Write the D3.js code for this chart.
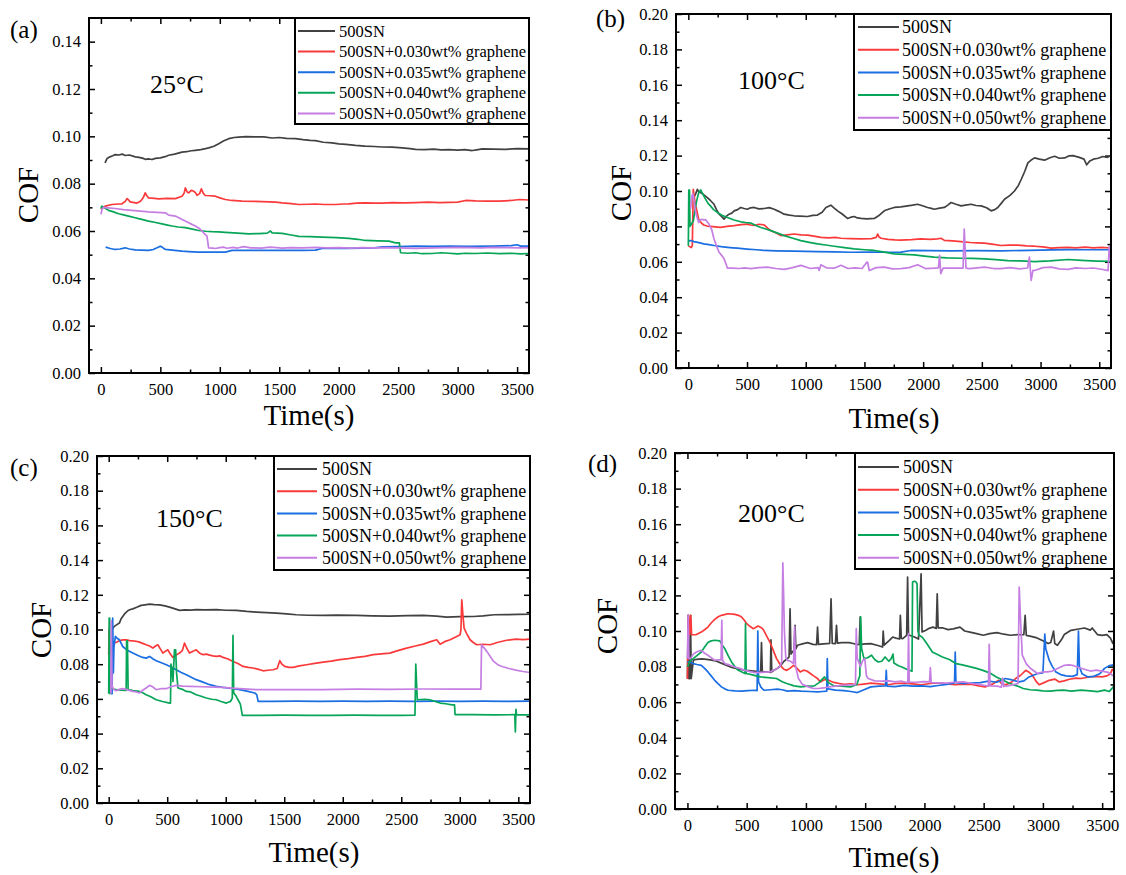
<!DOCTYPE html>
<html>
<head>
<meta charset="utf-8">
<script src="https://cdn.jsdelivr.net/npm/d3@7"></script>
<style>
  body { margin: 0; background: #fff; }
  svg { display: block; }
  text { font-family: "Liberation Serif", "Times New Roman", serif; fill: #000; }
</style>
</head>
<body>
<div id="chart"></div>
<script>
// legend names and colours, same order in every panel
const seriesNames = ["500SN", "500SN+0.030wt% graphene", "500SN+0.035wt% graphene", "500SN+0.040wt% graphene", "500SN+0.050wt% graphene"];
const seriesColors = ["#414141", "#fa3a3a", "#1a6ee2", "#07a558", "#c57ee2"];
const panelLetters = ["(a)", "(b)", "(c)", "(d)"];
const temperatures = ["25°C", "100°C", "150°C", "200°C"];
const xTickValues = [0, 500, 1000, 1500, 2000, 2500, 3000, 3500];
const yTickValuesA = [0, 0.02, 0.04, 0.06, 0.08, 0.10, 0.12, 0.14];
const yTickValues = [0, 0.02, 0.04, 0.06, 0.08, 0.10, 0.12, 0.14, 0.16, 0.18, 0.20];

// (a) 25°C  -- [time (s), COF]
const a_500SN = [[35,0.0888],[50,0.0905],[70,0.0912],[100,0.0918],[120,0.0923],[150,0.0921],[180,0.0925],[204,0.0919],[240,0.0921],[289,0.0913],[320,0.0911],[350,0.0908],[373,0.0903],[400,0.0905],[430,0.0902],[458,0.0907],[500,0.0909],[540,0.0914],[570,0.092],[620,0.0925],[682,0.0933],[720,0.0935],[760,0.0939],[794,0.0941],[840,0.0944],[880,0.0948],[906,0.0951],[950,0.0958],[991,0.0969],[1030,0.098],[1075,0.099],[1120,0.0995],[1159,0.0997],[1220,0.0999],[1299,0.0998],[1370,0.0998],[1440,0.0993],[1500,0.0995],[1560,0.0991],[1636,0.099],[1700,0.0986],[1760,0.0983],[1804,0.0982],[1870,0.0975],[1944,0.0972],[2000,0.0968],[2060,0.0966],[2141,0.0962],[2220,0.0959],[2300,0.0957],[2366,0.0955],[2450,0.0954],[2534,0.0951],[2600,0.0948],[2646,0.0945],[2720,0.0944],[2800,0.0946],[2860,0.0943],[2927,0.0944],[3000,0.0942],[3060,0.0944],[3123,0.094],[3160,0.0943],[3207,0.0947],[3300,0.0946],[3400,0.0945],[3500,0.0948],[3600,0.0947]];
const a_030 = [[0,0.0691],[20,0.07],[36,0.0705],[93,0.0712],[150,0.0714],[177,0.0715],[205,0.0725],[219,0.0737],[235,0.073],[247,0.0723],[303,0.0718],[330,0.0725],[345,0.0733],[360,0.0745],[373,0.0761],[385,0.075],[401,0.074],[450,0.0738],[486,0.0736],[560,0.0738],[626,0.0737],[682,0.0747],[700,0.076],[710,0.0782],[725,0.0765],[738,0.0761],[760,0.0772],[780,0.0768],[795,0.0762],[808,0.0751],[830,0.0758],[845,0.0778],[860,0.076],[878,0.075],[920,0.0749],[962,0.0747],[1000,0.074],[1047,0.0733],[1100,0.0729],[1187,0.0726],[1300,0.0725],[1411,0.0723],[1470,0.0722],[1524,0.0719],[1600,0.0716],[1664,0.0712],[1750,0.0713],[1804,0.0714],[1880,0.0712],[1973,0.0712],[2040,0.0714],[2085,0.0715],[2150,0.0718],[2225,0.0719],[2300,0.0718],[2366,0.0718],[2450,0.072],[2550,0.0719],[2646,0.072],[2750,0.0722],[2850,0.072],[2927,0.0721],[3000,0.0722],[3067,0.0729],[3150,0.0727],[3250,0.0726],[3350,0.0726],[3450,0.0729],[3520,0.0733],[3600,0.0731]];
const a_035 = [[40,0.0532],[80,0.0526],[120,0.0522],[160,0.0524],[204,0.0529],[240,0.0524],[289,0.052],[340,0.0519],[401,0.0518],[440,0.0522],[472,0.0529],[500,0.0536],[520,0.053],[542,0.0522],[600,0.0519],[682,0.0515],[740,0.0513],[822,0.0511],[950,0.0511],[1047,0.0511],[1103,0.0518],[1250,0.0518],[1383,0.0518],[1550,0.0518],[1700,0.0518],[1804,0.0519],[1860,0.0526],[1950,0.0526],[2085,0.0527],[2200,0.0528],[2300,0.0529],[2366,0.0533],[2500,0.0534],[2646,0.0536],[2800,0.0535],[2927,0.0536],[3100,0.0535],[3300,0.0536],[3450,0.0538],[3500,0.0542],[3530,0.0536],[3600,0.0536]];
const a_040 = [[0,0.0695],[8,0.0705],[40,0.0695],[64,0.0687],[100,0.0682],[149,0.0673],[190,0.0668],[233,0.0663],[280,0.0657],[317,0.0652],[360,0.0647],[401,0.0642],[460,0.0636],[514,0.063],[560,0.0625],[598,0.0621],[650,0.0617],[710,0.0614],[760,0.0609],[822,0.0602],[880,0.0599],[934,0.0597],[990,0.0596],[1047,0.0594],[1150,0.0591],[1243,0.0588],[1330,0.0589],[1398,0.0591],[1426,0.06],[1440,0.0592],[1524,0.059],[1600,0.0583],[1664,0.0577],[1760,0.0576],[1860,0.0574],[1980,0.0572],[2085,0.0569],[2160,0.0565],[2225,0.056],[2330,0.0558],[2422,0.0557],[2478,0.055],[2510,0.055],[2520,0.0508],[2580,0.0506],[2646,0.0508],[2700,0.0504],[2787,0.0505],[2860,0.0508],[2927,0.0506],[3000,0.0503],[3067,0.0506],[3150,0.0505],[3250,0.0507],[3350,0.0504],[3450,0.0506],[3530,0.0503],[3600,0.0505]];
const a_050 = [[0,0.067],[10,0.0692],[20,0.07],[60,0.0698],[120,0.0695],[190,0.069],[261,0.0687],[330,0.0684],[401,0.0681],[470,0.0679],[542,0.0677],[570,0.0667],[600,0.0665],[626,0.0663],[660,0.0655],[682,0.0649],[710,0.0642],[738,0.0635],[765,0.0628],[794,0.0621],[825,0.0612],[850,0.06],[870,0.0589],[892,0.0578],[906,0.0529],[940,0.0528],[962,0.0526],[1000,0.053],[1030,0.0532],[1060,0.0527],[1110,0.0531],[1150,0.0528],[1200,0.0534],[1260,0.0529],[1350,0.0528],[1420,0.0532],[1480,0.053],[1524,0.0528],[1600,0.053],[1700,0.0529],[1800,0.0531],[1900,0.0529],[2000,0.053],[2100,0.0528],[2200,0.053],[2300,0.0529],[2400,0.053],[2500,0.0529],[2646,0.0527],[2800,0.0529],[2900,0.053],[3000,0.0531],[3100,0.053],[3200,0.0529],[3300,0.0531],[3400,0.053],[3500,0.0529],[3600,0.053]];

// (b) 100°C
const b_500SN = [[45,0.0963],[60,0.098],[77,0.1009],[90,0.0995],[105,0.0991],[130,0.098],[162,0.0963],[190,0.0945],[219,0.0925],[240,0.0895],[262,0.0869],[285,0.0855],[304,0.0841],[325,0.0858],[347,0.0869],[370,0.0875],[390,0.0888],[420,0.0895],[446,0.0907],[475,0.0901],[503,0.0897],[530,0.0905],[560,0.0907],[600,0.0899],[646,0.0901],[690,0.0906],[731,0.0897],[770,0.0885],[816,0.0869],[860,0.0864],[901,0.086],[950,0.0858],[1015,0.0856],[1060,0.0862],[1100,0.0864],[1140,0.088],[1172,0.0907],[1214,0.092],[1240,0.0905],[1271,0.0888],[1310,0.087],[1356,0.0845],[1385,0.0852],[1413,0.0856],[1440,0.0848],[1470,0.0845],[1520,0.0843],[1584,0.0845],[1620,0.086],[1669,0.0888],[1710,0.0898],[1754,0.0907],[1810,0.091],[1868,0.0916],[1910,0.092],[1953,0.0925],[2000,0.0915],[2038,0.0907],[2070,0.0902],[2095,0.0897],[2140,0.0903],[2181,0.0907],[2210,0.092],[2238,0.0935],[2280,0.0925],[2323,0.0916],[2360,0.092],[2409,0.0925],[2450,0.0918],[2494,0.0916],[2540,0.0905],[2579,0.0888],[2610,0.0895],[2636,0.0907],[2665,0.093],[2693,0.0953],[2740,0.0975],[2778,0.1],[2810,0.103],[2835,0.1065],[2865,0.111],[2892,0.1159],[2920,0.1175],[2949,0.1187],[2990,0.118],[3034,0.1174],[3080,0.1188],[3120,0.1196],[3160,0.1185],[3205,0.1187],[3240,0.1198],[3276,0.12],[3330,0.119],[3370,0.118],[3393,0.1148],[3420,0.117],[3450,0.118],[3490,0.1185],[3530,0.1195],[3570,0.119],[3600,0.1202]];
const b_030 = [[0,0.069],[25,0.068],[34,0.0692],[42,0.1009],[50,0.097],[60,0.0925],[75,0.088],[88,0.0841],[110,0.082],[131,0.0808],[160,0.0802],[188,0.08],[230,0.0797],[273,0.0794],[330,0.08],[390,0.0804],[450,0.081],[503,0.0813],[530,0.0808],[560,0.0805],[600,0.0812],[646,0.0808],[675,0.079],[703,0.0776],[740,0.0765],[788,0.0748],[840,0.0752],[901,0.0757],[960,0.0752],[1015,0.0751],[1070,0.0745],[1129,0.0738],[1200,0.0735],[1250,0.0738],[1300,0.0733],[1380,0.0731],[1470,0.0729],[1560,0.0731],[1600,0.0738],[1613,0.0757],[1625,0.074],[1641,0.0733],[1700,0.0727],[1760,0.0724],[1811,0.0723],[1900,0.0725],[1982,0.0729],[2060,0.0727],[2120,0.073],[2152,0.0733],[2181,0.0721],[2250,0.0718],[2323,0.0714],[2400,0.0709],[2460,0.0707],[2522,0.0705],[2600,0.0698],[2664,0.0692],[2730,0.0694],[2807,0.0694],[2880,0.069],[2949,0.0688],[3020,0.0684],[3091,0.0677],[3160,0.068],[3234,0.0682],[3300,0.0679],[3380,0.0683],[3450,0.0679],[3520,0.0681],[3600,0.0678]];
const b_035 = [[5,0.0718],[20,0.072],[48,0.0714],[90,0.0708],[131,0.0701],[175,0.0697],[219,0.0692],[280,0.0686],[333,0.0682],[380,0.0679],[418,0.0677],[500,0.0672],[580,0.0668],[646,0.0664],[750,0.0662],[900,0.066],[1100,0.0658],[1250,0.0656],[1385,0.0654],[1550,0.0655],[1700,0.0654],[1811,0.0655],[1896,0.0664],[2050,0.0663],[2238,0.0662],[2450,0.0663],[2664,0.0662],[2900,0.0665],[3100,0.0667],[3234,0.0669],[3400,0.0668],[3600,0.0668]];
const b_040 = [[0,0.069],[4,0.1005],[10,0.1005],[14,0.08],[28,0.0815],[43,0.0832],[60,0.0905],[71,0.0944],[88,0.099],[105,0.1006],[125,0.098],[148,0.0953],[168,0.093],[188,0.0916],[215,0.0895],[247,0.0879],[290,0.0862],[333,0.085],[390,0.0836],[446,0.0826],[490,0.0822],[532,0.0819],[575,0.0805],[617,0.0794],[660,0.0785],[703,0.0776],[760,0.0762],[816,0.0748],[890,0.0733],[958,0.072],[1030,0.071],[1100,0.0701],[1170,0.0695],[1243,0.0688],[1330,0.068],[1413,0.0673],[1500,0.0668],[1584,0.0664],[1670,0.0655],[1754,0.0645],[1840,0.0642],[1925,0.0639],[2010,0.0632],[2095,0.0626],[2200,0.0622],[2323,0.062],[2420,0.0619],[2522,0.0617],[2620,0.0612],[2721,0.0607],[2830,0.0605],[2949,0.0601],[3080,0.0605],[3234,0.0613],[3350,0.0608],[3480,0.0604],[3600,0.0602]];
const b_050 = [[20,0.09],[30,0.097],[39,0.0985],[50,0.094],[60,0.0888],[75,0.085],[88,0.0822],[100,0.0835],[117,0.0841],[132,0.0836],[148,0.0838],[162,0.0825],[176,0.0813],[200,0.078],[219,0.0729],[240,0.069],[262,0.0654],[285,0.0635],[304,0.0617],[320,0.059],[333,0.0564],[380,0.0564],[430,0.0562],[480,0.0566],[532,0.0561],[600,0.0567],[674,0.057],[745,0.0562],[816,0.0557],[880,0.0566],[958,0.058],[1040,0.0562],[1105,0.0567],[1115,0.0551],[1129,0.0583],[1180,0.0565],[1243,0.0564],[1300,0.058],[1360,0.0562],[1420,0.0566],[1480,0.0562],[1520,0.0598],[1527,0.0598],[1541,0.0551],[1600,0.0567],[1669,0.057],[1740,0.056],[1811,0.0561],[1880,0.0567],[1953,0.0583],[2020,0.0562],[2095,0.0564],[2130,0.0566],[2140,0.0636],[2150,0.0533],[2170,0.0564],[2238,0.0564],[2300,0.0565],[2340,0.0564],[2350,0.0785],[2365,0.0564],[2394,0.0561],[2460,0.0566],[2522,0.057],[2600,0.0562],[2664,0.0561],[2740,0.0567],[2820,0.056],[2890,0.0565],[2905,0.0626],[2920,0.0495],[2935,0.0551],[2949,0.0551],[3020,0.0567],[3091,0.057],[3160,0.056],[3234,0.0557],[3300,0.0566],[3380,0.0562],[3450,0.0565],[3520,0.0558],[3575,0.055],[3585,0.0685],[3595,0.062],[3600,0.0595]];

// (c) 150°C
const c_500SN = [[30,0.1],[48,0.1018],[70,0.1028],[91,0.1037],[105,0.106],[120,0.1075],[140,0.1093],[163,0.1108],[185,0.1115],[206,0.1119],[240,0.1128],[277,0.1139],[310,0.1142],[349,0.1146],[390,0.1143],[434,0.1142],[480,0.1136],[520,0.1129],[560,0.112],[606,0.111],[650,0.1113],[700,0.1112],[748,0.1114],[820,0.1113],[920,0.1114],[1000,0.1111],[1091,0.111],[1180,0.1104],[1262,0.11],[1350,0.1097],[1433,0.1094],[1520,0.109],[1604,0.1085],[1700,0.1082],[1833,0.1081],[1950,0.1083],[2118,0.1081],[2250,0.1079],[2403,0.1077],[2550,0.108],[2689,0.1081],[2800,0.1077],[2889,0.1071],[3000,0.1074],[3117,0.1075],[3200,0.1079],[3294,0.1085],[3400,0.1086],[3500,0.1087],[3600,0.1088]];
const c_030 = [[0,0.0855],[3,0.0998],[8,0.0855],[25,0.092],[48,0.0922],[70,0.0928],[91,0.0935],[120,0.094],[149,0.0941],[180,0.0936],[206,0.0935],[235,0.0932],[263,0.0927],[290,0.092],[320,0.0912],[350,0.0905],[377,0.0893],[400,0.0905],[420,0.0912],[440,0.089],[463,0.0864],[485,0.0875],[506,0.0883],[525,0.086],[549,0.0839],[580,0.0855],[606,0.0864],[630,0.088],[648,0.0922],[665,0.0895],[691,0.0864],[720,0.0875],[748,0.0883],[775,0.0865],[806,0.0855],[835,0.0858],[863,0.0852],[890,0.0848],[920,0.0845],[950,0.0848],[977,0.0839],[1020,0.083],[1062,0.0816],[1100,0.0805],[1148,0.0787],[1190,0.0782],[1234,0.0778],[1280,0.077],[1320,0.0762],[1360,0.0765],[1405,0.0768],[1440,0.0775],[1462,0.082],[1480,0.08],[1505,0.0787],[1540,0.0782],[1576,0.0782],[1630,0.079],[1690,0.0797],[1760,0.0805],[1833,0.0812],[1900,0.0818],[1975,0.0826],[2050,0.0832],[2118,0.0839],[2190,0.0845],[2261,0.0855],[2330,0.086],[2403,0.0864],[2470,0.0878],[2546,0.0893],[2620,0.0905],[2689,0.0916],[2750,0.093],[2803,0.0941],[2832,0.0915],[2870,0.093],[2917,0.0941],[2974,0.096],[3003,0.097],[3010,0.1],[3017,0.1171],[3027,0.108],[3037,0.1008],[3060,0.0975],[3088,0.0941],[3115,0.0925],[3145,0.0912],[3200,0.0915],[3260,0.0912],[3320,0.0925],[3400,0.0938],[3480,0.0945],[3540,0.0942],[3600,0.0944]];
const c_035 = [[20,0.063],[29,0.063],[34,0.1066],[40,0.075],[45,0.09],[57,0.096],[75,0.0948],[91,0.0941],[120,0.0902],[160,0.088],[206,0.0864],[250,0.085],[291,0.0839],[320,0.0835],[349,0.0845],[380,0.083],[406,0.082],[450,0.0808],[492,0.0797],[520,0.0788],[550,0.0778],[577,0.0768],[620,0.0752],[663,0.0739],[705,0.0725],[748,0.0711],[800,0.0698],[863,0.0682],[920,0.0673],[977,0.0666],[1050,0.066],[1120,0.0653],[1180,0.0645],[1248,0.0634],[1265,0.0625],[1277,0.0586],[1400,0.0586],[1600,0.0587],[1800,0.0586],[2000,0.0587],[2200,0.0586],[2400,0.0587],[2600,0.0586],[2800,0.0587],[3000,0.0586],[3200,0.0587],[3400,0.0586],[3600,0.0587]];
const c_040 = [[0,0.063],[4,0.1066],[8,0.1066],[12,0.063],[16,0.0663],[63,0.0653],[110,0.065],[149,0.0649],[153,0.0935],[160,0.0935],[166,0.0653],[210,0.0648],[263,0.0643],[290,0.0635],[320,0.0624],[360,0.0612],[406,0.0595],[460,0.0585],[520,0.0576],[528,0.0576],[532,0.08],[542,0.077],[549,0.07],[562,0.0883],[572,0.0883],[580,0.075],[592,0.0663],[630,0.0655],[663,0.0643],[700,0.064],[748,0.0624],[790,0.0615],[834,0.0605],[880,0.0598],[920,0.0595],[960,0.0585],[1005,0.0576],[1040,0.0585],[1056,0.0605],[1062,0.0966],[1068,0.0634],[1090,0.0615],[1105,0.0595],[1125,0.057],[1142,0.0505],[1300,0.0505],[1500,0.0506],[1700,0.0505],[1900,0.0505],[2100,0.0506],[2300,0.0505],[2500,0.0505],[2617,0.0506],[2624,0.08],[2630,0.07],[2637,0.0595],[2700,0.0598],[2746,0.0595],[2790,0.0585],[2832,0.0576],[2880,0.0572],[2932,0.0566],[2955,0.0566],[2960,0.0509],[3100,0.0509],[3300,0.0508],[3470,0.0509],[3475,0.041],[3480,0.054],[3485,0.0509],[3600,0.0508]];
const c_050 = [[18,0.063],[22,0.105],[28,0.068],[40,0.0655],[63,0.0647],[90,0.0655],[120,0.0659],[160,0.0652],[206,0.0643],[235,0.064],[263,0.0634],[290,0.065],[320,0.0663],[349,0.0678],[375,0.067],[406,0.0653],[450,0.066],[492,0.0659],[530,0.067],[577,0.0678],[630,0.0674],[691,0.0672],[800,0.067],[900,0.0668],[977,0.0666],[1050,0.0662],[1120,0.0659],[1262,0.0653],[1500,0.0654],[1833,0.0653],[2118,0.0656],[2400,0.0655],[2689,0.0657],[2950,0.0656],[3180,0.0656],[3186,0.0912],[3231,0.0874],[3289,0.0816],[3330,0.0795],[3362,0.0787],[3420,0.0775],[3480,0.0766],[3540,0.0758],[3600,0.0752]];

// (d) 200°C
const d_500SN = [[0,0.0733],[6,0.1088],[12,0.0733],[20,0.0733],[26,0.1088],[32,0.0733],[50,0.0836],[77,0.0841],[120,0.0843],[162,0.0841],[205,0.0836],[247,0.083],[290,0.0818],[332,0.0807],[375,0.0795],[417,0.0789],[460,0.0783],[503,0.0779],[560,0.0775],[600,0.0772],[618,0.077],[625,0.0935],[632,0.077],[673,0.077],[700,0.0768],[705,0.095],[712,0.077],[730,0.0779],[760,0.079],[787,0.0807],[815,0.083],[844,0.0845],[858,0.0855],[866,0.1125],[874,0.087],[900,0.0895],[908,0.1032],[915,0.09],[929,0.092],[970,0.0928],[1014,0.0935],[1060,0.0925],[1090,0.0923],[1098,0.1022],[1106,0.0925],[1150,0.0928],[1200,0.093],[1212,0.1181],[1222,0.093],[1249,0.0929],[1258,0.1032],[1266,0.0932],[1300,0.0935],[1363,0.0935],[1400,0.093],[1434,0.0923],[1450,0.0925],[1458,0.1079],[1466,0.0925],[1500,0.0928],[1547,0.0929],[1600,0.092],[1647,0.091],[1652,0.1],[1660,0.092],[1700,0.0945],[1732,0.0966],[1760,0.096],[1790,0.0955],[1797,0.1088],[1805,0.0958],[1817,0.0957],[1850,0.0976],[1858,0.1303],[1866,0.0976],[1874,0.0976],[1916,0.0966],[1950,0.0955],[1972,0.1321],[1980,0.0995],[2009,0.1003],[2040,0.1015],[2072,0.1022],[2100,0.1015],[2108,0.1209],[2116,0.1017],[2157,0.1017],[2200,0.1008],[2243,0.1012],[2300,0.1022],[2340,0.1],[2384,0.0994],[2440,0.0985],[2498,0.0976],[2550,0.0985],[2612,0.0991],[2670,0.0982],[2725,0.0976],[2790,0.098],[2839,0.0979],[2850,0.1088],[2860,0.0975],[2900,0.097],[2950,0.0961],[3000,0.0945],[3045,0.093],[3066,0.0935],[3090,0.1],[3100,0.093],[3123,0.092],[3160,0.0955],[3180,0.098],[3237,0.1004],[3290,0.101],[3351,0.1017],[3400,0.1005],[3416,0.1017],[3460,0.098],[3500,0.0975],[3540,0.098],[3570,0.096],[3590,0.093],[3600,0.0951]];
const d_030 = [[0,0.073],[9,0.1088],[18,0.098],[28,0.1088],[35,0.098],[71,0.0979],[117,0.0994],[150,0.101],[173,0.1022],[200,0.1045],[230,0.1065],[260,0.108],[287,0.1088],[320,0.1093],[344,0.1097],[380,0.1095],[400,0.1093],[430,0.1088],[457,0.1079],[480,0.106],[500,0.1041],[530,0.1025],[554,0.1013],[575,0.102],[596,0.1028],[620,0.102],[639,0.1009],[670,0.097],[696,0.0938],[725,0.089],[752,0.0845],[775,0.082],[795,0.0798],[815,0.0785],[838,0.0779],[865,0.079],[895,0.0807],[925,0.079],[952,0.077],[980,0.078],[1008,0.0775],[1040,0.076],[1065,0.0748],[1095,0.0735],[1122,0.0714],[1150,0.0725],[1179,0.0728],[1210,0.0718],[1236,0.0711],[1280,0.0705],[1321,0.07],[1380,0.0703],[1434,0.0698],[1490,0.0702],[1548,0.0707],[1620,0.0703],[1690,0.0698],[1760,0.0705],[1832,0.0707],[1900,0.0703],[1974,0.0698],[2050,0.0705],[2116,0.0709],[2190,0.0703],[2258,0.0698],[2330,0.0702],[2400,0.07],[2460,0.0692],[2513,0.0686],[2570,0.07],[2627,0.0723],[2650,0.0705],[2684,0.0698],[2730,0.071],[2770,0.0733],[2810,0.075],[2855,0.0779],[2880,0.077],[2911,0.0752],[2940,0.072],[2968,0.0698],[3010,0.071],[3053,0.0723],[3100,0.073],[3138,0.0714],[3180,0.072],[3223,0.0729],[3280,0.0735],[3320,0.0733],[3380,0.074],[3440,0.0745],[3500,0.0742],[3540,0.0748],[3570,0.076],[3585,0.0785],[3600,0.0775]];
const d_035 = [[0,0.0826],[20,0.0826],[48,0.0817],[80,0.0812],[117,0.0807],[145,0.079],[173,0.077],[200,0.0748],[230,0.0723],[260,0.0703],[287,0.0686],[315,0.0675],[344,0.0667],[400,0.0664],[457,0.0662],[510,0.0665],[571,0.0667],[588,0.0665],[594,0.1],[600,0.0714],[620,0.0685],[645,0.0667],[700,0.067],[759,0.0673],[800,0.067],[844,0.0662],[900,0.0665],[958,0.0662],[1030,0.066],[1100,0.0658],[1140,0.066],[1176,0.0662],[1180,0.0845],[1186,0.0675],[1250,0.0668],[1321,0.0665],[1380,0.066],[1434,0.0654],[1490,0.067],[1548,0.0686],[1620,0.069],[1672,0.0692],[1678,0.0779],[1684,0.069],[1750,0.0688],[1832,0.0694],[1900,0.069],[1974,0.0692],[2050,0.0688],[2116,0.0694],[2190,0.07],[2254,0.0708],[2260,0.0882],[2266,0.071],[2330,0.0705],[2400,0.0708],[2470,0.071],[2542,0.0718],[2610,0.0712],[2684,0.0733],[2740,0.0725],[2797,0.0714],[2840,0.072],[2883,0.0742],[2950,0.076],[3000,0.0765],[3016,0.0983],[3024,0.09],[3053,0.0836],[3080,0.08],[3110,0.077],[3150,0.0755],[3195,0.0748],[3250,0.0745],[3290,0.0755],[3300,0.1],[3308,0.08],[3330,0.076],[3380,0.0742],[3430,0.0745],[3480,0.076],[3520,0.079],[3560,0.0805],[3600,0.081]];
const d_040 = [[0,0.08],[6,0.0807],[20,0.083],[48,0.0845],[80,0.0862],[117,0.0882],[145,0.091],[173,0.0935],[200,0.0945],[230,0.0948],[273,0.0945],[295,0.092],[316,0.09],[345,0.086],[372,0.0826],[400,0.08],[429,0.0779],[460,0.077],[486,0.0761],[490,0.1041],[496,0.0761],[540,0.0755],[580,0.0748],[617,0.0742],[680,0.0738],[752,0.0733],[800,0.0715],[838,0.0705],[900,0.0692],[958,0.0686],[1010,0.069],[1071,0.0692],[1110,0.071],[1157,0.0742],[1190,0.071],[1236,0.0692],[1300,0.069],[1377,0.0686],[1430,0.07],[1455,0.075],[1462,0.1079],[1470,0.09],[1490,0.0845],[1520,0.085],[1554,0.0864],[1580,0.084],[1611,0.0826],[1640,0.083],[1668,0.0854],[1700,0.083],[1720,0.0845],[1735,0.087],[1742,0.082],[1781,0.0805],[1810,0.0798],[1850,0.0785],[1880,0.0778],[1895,0.0774],[1900,0.1275],[1915,0.128],[1930,0.1275],[1938,0.1265],[1945,0.1],[1955,0.0976],[1982,0.0965],[2020,0.093],[2067,0.0882],[2110,0.0868],[2152,0.0854],[2210,0.084],[2266,0.0817],[2320,0.081],[2380,0.08],[2440,0.079],[2493,0.0779],[2550,0.0765],[2607,0.0742],[2660,0.0725],[2720,0.0705],[2780,0.0692],[2834,0.0677],[2890,0.067],[2947,0.0668],[3000,0.0664],[3061,0.0662],[3120,0.0666],[3175,0.0668],[3240,0.0662],[3320,0.0668],[3400,0.0664],[3460,0.0659],[3520,0.0668],[3560,0.066],[3600,0.069]];
const d_050 = [[0,0.0845],[6,0.1088],[12,0.0845],[26,0.0845],[50,0.087],[77,0.0882],[100,0.0888],[117,0.0891],[145,0.0875],[173,0.0864],[200,0.085],[230,0.0836],[260,0.0838],[284,0.0838],[290,0.106],[296,0.0835],[316,0.0817],[360,0.0808],[400,0.0798],[440,0.079],[486,0.0779],[530,0.0772],[571,0.0766],[630,0.0768],[696,0.077],[752,0.0788],[780,0.08],[795,0.0825],[805,0.1383],[812,0.12],[818,0.1],[830,0.085],[844,0.0835],[870,0.083],[895,0.0817],[905,0.1025],[912,0.0805],[937,0.0733],[970,0.07],[1022,0.0686],[1060,0.0678],[1106,0.0677],[1150,0.068],[1193,0.0686],[1250,0.069],[1306,0.0695],[1370,0.0697],[1418,0.0698],[1425,0.1013],[1432,0.085],[1460,0.08],[1480,0.0835],[1497,0.0845],[1510,0.075],[1525,0.0733],[1580,0.072],[1639,0.0718],[1700,0.072],[1752,0.0714],[1810,0.0718],[1860,0.0709],[1866,0.0985],[1872,0.0712],[1930,0.0712],[1990,0.0716],[2043,0.0714],[2050,0.0795],[2057,0.071],[2120,0.0709],[2186,0.0707],[2250,0.0712],[2328,0.0714],[2400,0.0705],[2460,0.07],[2499,0.0695],[2540,0.069],[2547,0.0925],[2554,0.0692],[2612,0.069],[2650,0.0685],[2660,0.0735],[2670,0.0688],[2726,0.0695],[2790,0.0705],[2800,0.1247],[2812,0.105],[2826,0.0864],[2860,0.0815],[2897,0.0789],[2954,0.0761],[3000,0.077],[3039,0.077],[3080,0.0775],[3124,0.0789],[3181,0.0807],[3220,0.081],[3260,0.0805],[3300,0.0795],[3350,0.0785],[3400,0.0775],[3450,0.078],[3500,0.0775],[3550,0.0768],[3600,0.0745]];

// page layout of the four panels
const panels = [
  { series: [a_500SN, a_030, a_035, a_040, a_050], ymax: 0.15, yTicks: yTickValuesA, xmin: -100,
    frame: { l: 89, r: 529, t: 18, b: 373 },
    legend: { l: 295, r: 529, t: 18, b: 124, row0: 31, rowStep: 20.6, lx1: 298, lx2: 335, tx: 339, fs: 16.5 },
    letter: [10, 38], temp: [150, 93], cof: [28, 195], time: [309, 425] },
  { series: [b_500SN, b_030, b_035, b_040, b_050], ymax: 0.2, yTicks: yTickValues, xmin: -105,
    frame: { l: 676, r: 1111, t: 14, b: 368 },
    legend: { l: 854, r: 1111, t: 14, b: 130, row0: 27, rowStep: 22.7, lx1: 858, lx2: 899, tx: 902, fs: 18 },
    letter: [596, 27], temp: [738, 89], cof: [621, 193], time: [894, 428] },
  { series: [c_500SN, c_030, c_035, c_040, c_050], ymax: 0.2, yTicks: yTickValues, xmin: -100,
    frame: { l: 97, r: 530, t: 456, b: 803 },
    legend: { l: 274, r: 530, t: 456, b: 570, row0: 469, rowStep: 22.2, lx1: 277, lx2: 317, tx: 322, fs: 18 },
    letter: [10, 476], temp: [156, 527], cof: [41, 630], time: [314, 862] },
  { series: [d_500SN, d_030, d_035, d_040, d_050], ymax: 0.2, yTicks: yTickValues, xmin: -105,
    frame: { l: 675, r: 1114, t: 453, b: 809 },
    legend: { l: 855, r: 1114, t: 453, b: 569, row0: 467, rowStep: 22.7, lx1: 858, lx2: 899, tx: 903, fs: 18 },
    letter: [588, 472], temp: [738, 522], cof: [607, 626], time: [894, 867] }
];

const svg = d3.select("#chart").append("svg")
  .attr("width", 1126).attr("height", 875);

function styleAxis(sel) {
  sel.select(".domain").remove();
  sel.selectAll(".tick line").attr("stroke", "#000").attr("stroke-width", 1.5);
  sel.selectAll(".tick text").style("font-family", "'Liberation Serif', serif")
    .style("font-size", "16.5px").attr("fill", "#000");
}

panels.forEach((p, i) => {
  const f = p.frame;
  const g = svg.append("g");
  const x = d3.scaleLinear().domain([p.xmin, 3600]).range([f.l, f.r]);
  const y = d3.scaleLinear().domain([0, p.ymax]).range([f.b, f.t]);
  const xMinor = d3.range(250, 3600, 500);
  const yMinor = d3.range(0.01, p.ymax, 0.02);

  // ticks on all four sides, pointing inwards
  g.append("g").attr("transform", `translate(0,${f.b})`)
    .call(d3.axisBottom(x).tickValues(xTickValues).tickSize(-6).tickPadding(10).tickFormat(d3.format("d")))
    .call(styleAxis);
  g.append("g").attr("transform", `translate(0,${f.b})`)
    .call(d3.axisBottom(x).tickValues(xMinor).tickSize(-3.5).tickFormat(""))
    .call(styleAxis);
  g.append("g").attr("transform", `translate(0,${f.t})`)
    .call(d3.axisTop(x).tickValues(xTickValues).tickSize(-6).tickFormat(""))
    .call(styleAxis);
  g.append("g").attr("transform", `translate(0,${f.t})`)
    .call(d3.axisTop(x).tickValues(xMinor).tickSize(-3.5).tickFormat(""))
    .call(styleAxis);
  g.append("g").attr("transform", `translate(${f.l},0)`)
    .call(d3.axisLeft(y).tickValues(p.yTicks).tickSize(-6).tickPadding(8).tickFormat(d3.format(".2f")))
    .call(styleAxis);
  g.append("g").attr("transform", `translate(${f.l},0)`)
    .call(d3.axisLeft(y).tickValues(yMinor).tickSize(-3.5).tickFormat(""))
    .call(styleAxis);
  g.append("g").attr("transform", `translate(${f.r},0)`)
    .call(d3.axisRight(y).tickValues(p.yTicks).tickSize(-6).tickFormat(""))
    .call(styleAxis);
  g.append("g").attr("transform", `translate(${f.r},0)`)
    .call(d3.axisRight(y).tickValues(yMinor).tickSize(-3.5).tickFormat(""))
    .call(styleAxis);

  // data lines, clipped to the frame
  const clipId = "clip" + i;
  svg.append("clipPath").attr("id", clipId).append("rect")
    .attr("x", f.l).attr("y", f.t).attr("width", f.r - f.l).attr("height", f.b - f.t);
  const line = d3.line().x(d => x(d[0])).y(d => y(d[1]));
  g.append("g").attr("clip-path", `url(#${clipId})`)
    .selectAll("path")
    .data(p.series)
    .enter()
    .append("path")
    .attr("d", line)
    .attr("fill", "none")
    .attr("stroke", (d, k) => seriesColors[k])
    .attr("stroke-width", 1.7)
    .attr("stroke-linejoin", "round");

  // frame
  g.append("rect")
    .attr("x", f.l).attr("y", f.t).attr("width", f.r - f.l).attr("height", f.b - f.t)
    .attr("fill", "none").attr("stroke", "#000").attr("stroke-width", 2);

  // legend
  const L = p.legend;
  g.append("rect")
    .attr("x", L.l).attr("y", L.t).attr("width", L.r - L.l).attr("height", L.b - L.t)
    .attr("fill", "#fff").attr("stroke", "#000").attr("stroke-width", 2);
  seriesNames.forEach((name, k) => {
    const ry = L.row0 + k * L.rowStep;
    g.append("line")
      .attr("x1", L.lx1).attr("x2", L.lx2).attr("y1", ry).attr("y2", ry)
      .attr("stroke", seriesColors[k]).attr("stroke-width", 2);
    g.append("text")
      .attr("x", L.tx).attr("y", ry)
      .attr("dy", "0.34em")
      .style("font-size", L.fs + "px")
      .text(name);
  });

  // labels
  g.append("text").attr("x", p.letter[0]).attr("y", p.letter[1])
    .style("font-size", "25px").text(panelLetters[i]);
  g.append("text").attr("x", p.temp[0]).attr("y", p.temp[1])
    .style("font-size", "26px").text(temperatures[i]);
  g.append("text")
    .attr("transform", `translate(${p.cof[0]},${p.cof[1]}) rotate(-90)`)
    .attr("text-anchor", "middle").attr("dy", "0.35em")
    .style("font-size", "29px").text("COF");
  g.append("text").attr("x", p.time[0]).attr("y", p.time[1])
    .attr("text-anchor", "middle")
    .style("font-size", "29px").text("Time(s)");
});
</script>
</body>
</html>
